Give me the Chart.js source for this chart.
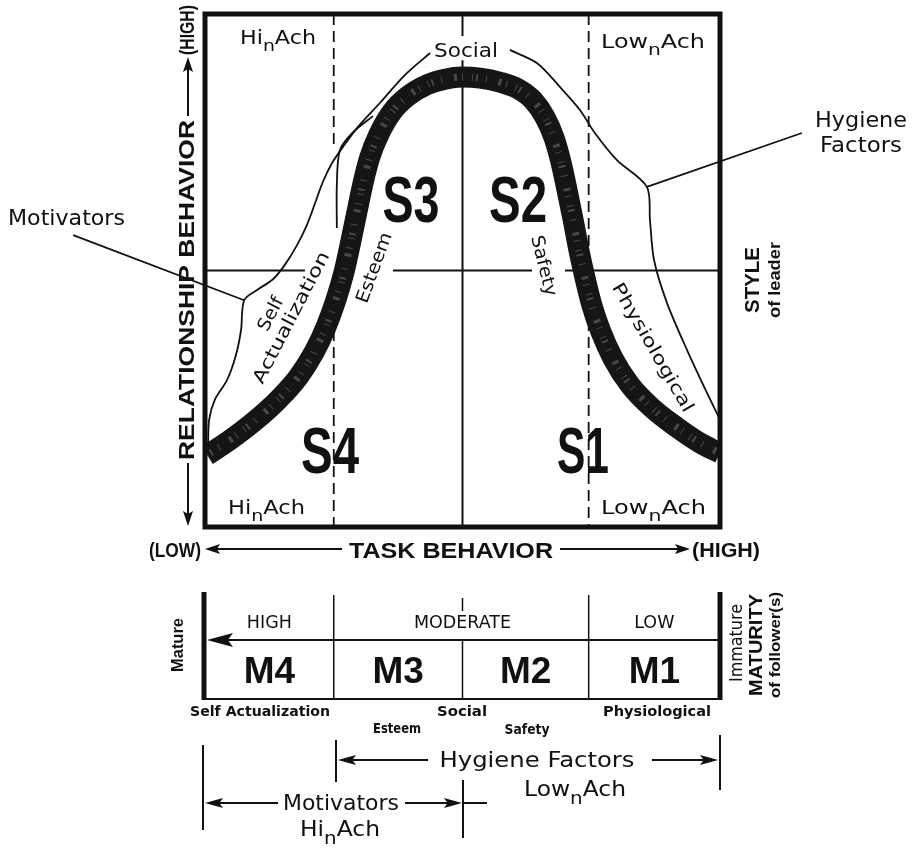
<!DOCTYPE html>
<html><head><meta charset="utf-8">
<script src="https://cdn.jsdelivr.net/npm/chart.js@4.4.1/dist/chart.umd.min.js"></script>
<style>html,body{margin:0;padding:0;background:#fff}canvas{display:block}</style>
</head><body>
<canvas id="c" width="912" height="852"></canvas>
<script>
// Leadership style curve: task behavior (x, 0-100) vs relationship behavior (y, 0-100)
const styleCurveX = [0.4, 4.9, 9.7, 14.2, 18.1, 21.2, 23.5, 25.4, 27.0, 28.3, 29.5, 30.7, 32.0, 33.8, 36.3, 39.4, 43.1, 46.6, 49.9, 53.4, 57.3, 60.8, 63.7, 66.0, 67.8, 69.1, 70.3, 71.5, 72.6, 73.8, 75.1, 76.9, 79.2, 82.5, 86.8, 91.8, 96.1, 100];
const styleCurveY = [14.0, 17.0, 20.7, 24.8, 29.2, 34.1, 39.0, 44.2, 49.7, 55.6, 61.4, 67.1, 72.1, 76.6, 80.9, 84.0, 86.2, 87.3, 87.7, 87.5, 86.7, 85.4, 83.2, 79.9, 75.8, 71.2, 65.7, 59.8, 54.0, 48.5, 43.3, 38.0, 32.9, 27.7, 23.2, 19.3, 16.4, 14.4];
// Needs curve (Motivators side, left of "Social")
const needsLeftX = [0.6, 0.8, 1.9, 4.3, 6.0, 7.0, 7.6, 10.1, 13.2, 15.5, 17.9, 19.8, 21.4, 22.9, 24.7, 26.8, 29.7, 34.0, 38.8, 43.7];
const needsLeftY = [15.6, 20.9, 24.8, 28.7, 33.5, 38.4, 44.2, 46.2, 48.3, 51.1, 55.0, 58.9, 63.2, 67.3, 71.0, 74.1, 78.0, 82.7, 88.1, 92.4];
// Needs curve (Hygiene side, right of "Social")
const needsRightX = [59.2, 64.5, 68.9, 72.8, 75.7, 80.0, 85.8, 86.4, 87.2, 89.7, 93.6, 97.5, 100];
const needsRightY = [93.0, 90.4, 85.8, 81.3, 76.8, 71.5, 66.3, 59.8, 52.0, 43.7, 34.5, 26.1, 20.9];
// Small branch beside the S3 segment
const branchX = [32.6, 28.8, 26.2, 25.6, 25.6];
const branchY = [80.1, 77.0, 73.5, 66.7, 58.3];
// Leader lines
const motivatorLeaderX = [-25.6, 7.6];
const motivatorLeaderY = [56.9, 44.2];
const hygieneLeaderX = [85.8, 115.9];
const hygieneLeaderY = [66.3, 76.8];
// Category texts
const quadrantBounds = [25, 50, 74.5];
const styleLabels = ['S4', 'S3', 'S2', 'S1'];
const maturityLabels = ['M4', 'M3', 'M2', 'M1'];
const maturityLevels = ['HIGH', 'MODERATE', 'LOW'];
const needsLevels = ['Self Actualization', 'Esteem', 'Social', 'Safety', 'Physiological'];

const REG = '"DejaVu Sans", "Liberation Sans", sans-serif';
const BOLD = '"Liberation Sans", Arial, sans-serif';
const INK = '#111';

function T(ctx, str, x, y, o) {
  o = o || {};
  const size = o.size || 18;
  ctx.save();
  ctx.translate(x, y);
  if (o.angle) ctx.rotate(o.angle * Math.PI / 180);
  ctx.font = (o.weight || 'normal') + ' ' + size + 'px ' + (o.family || REG);
  ctx.fillStyle = INK;
  ctx.textAlign = o.align || 'center';
  ctx.textBaseline = o.baseline || 'alphabetic';
  if (o.width) { const w = ctx.measureText(str).width; ctx.scale(o.width / w, 1); }
  ctx.fillText(str, o.dx || 0, o.dy || 0);
  ctx.restore();
}
function TS(ctx, a, sub, b, x, y, o) {
  const size = o.size || 19, ss = size * 0.85;
  ctx.save();
  ctx.translate(x, y);
  ctx.fillStyle = INK; ctx.textBaseline = 'alphabetic'; ctx.textAlign = 'left';
  const f1 = size + 'px ' + REG, f2 = ss + 'px ' + REG;
  ctx.font = f1; const wa = ctx.measureText(a).width, wb = ctx.measureText(b).width;
  ctx.font = f2; const ws = ctx.measureText(sub).width;
  const tot = wa + ws + wb;
  if (o.width) ctx.scale(o.width / tot, 1);
  const x0 = o.align === 'center' ? -tot / 2 : 0;
  ctx.font = f1; ctx.fillText(a, x0, 0);
  ctx.font = f2; ctx.fillText(sub, x0 + wa, size * 0.38);
  ctx.font = f1; ctx.fillText(b, x0 + wa + ws, 0);
  ctx.restore();
}
function L(ctx, x1, y1, x2, y2, lw, dash) {
  ctx.save();
  ctx.strokeStyle = INK; ctx.lineWidth = lw || 1.8; ctx.setLineDash(dash || []);
  ctx.beginPath(); ctx.moveTo(x1, y1); ctx.lineTo(x2, y2); ctx.stroke();
  ctx.restore();
}
function A(ctx, x1, y1, x2, y2, len, half, lw) {
  len = len || 16; half = half || 5;
  const a = Math.atan2(y2 - y1, x2 - x1), c = Math.cos(a), s = Math.sin(a);
  L(ctx, x1, y1, x2 - c * len * 0.7, y2 - s * len * 0.7, lw || 2);
  ctx.save(); ctx.fillStyle = INK;
  ctx.beginPath(); ctx.moveTo(x2, y2);
  ctx.lineTo(x2 - c * len - s * half, y2 - s * len + c * half);
  ctx.lineTo(x2 - c * len * 0.8, y2 - s * len * 0.8);
  ctx.lineTo(x2 - c * len + s * half, y2 - s * len - c * half);
  ctx.closePath(); ctx.fill(); ctx.restore();
}

const diagram = {
  id: 'diagram',
  beforeDatasetsDraw(chart) {
    const ctx = chart.ctx, xs = chart.scales.x, ys = chart.scales.y;
    const X = v => xs.getPixelForValue(v), Y = v => ys.getPixelForValue(v);
    [[0, 19.4], [36.5, 63.5], [69.9, 100]].forEach(s => L(ctx, X(s[0]), Y(50), X(s[1]), Y(50), 1.8));
    L(ctx, X(quadrantBounds[1]), Y(100), X(quadrantBounds[1]), Y(95.7), 2);
    L(ctx, X(quadrantBounds[1]), Y(91.0), X(quadrantBounds[1]), Y(0), 2);
    L(ctx, X(quadrantBounds[0]), Y(100), X(quadrantBounds[0]), Y(73.9), 1.8, [11, 6]);
    L(ctx, X(quadrantBounds[0]), Y(38.4), X(quadrantBounds[0]), Y(0), 1.8, [11, 6]);
    L(ctx, X(quadrantBounds[2]), Y(100), X(quadrantBounds[2]), Y(0), 1.8, [11, 6]);
  },
  afterDatasetsDraw(chart) {
    const ctx = chart.ctx, xs = chart.scales.x, ys = chart.scales.y;
    const X = v => xs.getPixelForValue(v), Y = v => ys.getPixelForValue(v);
    ctx.save(); ctx.strokeStyle = INK; ctx.lineWidth = 5;
    ctx.strokeRect(X(0), Y(100), X(100) - X(0), Y(0) - Y(100)); ctx.restore();

    TS(ctx, 'Hi', 'n', 'Ach', 240, 44, { size: 19, width: 76 });
    TS(ctx, 'Low', 'n', 'Ach', 601, 48, { size: 19, width: 104 });
    TS(ctx, 'Hi', 'n', 'Ach', 228, 514, { size: 19, width: 77 });
    TS(ctx, 'Low', 'n', 'Ach', 601, 514, { size: 19, width: 105 });
    T(ctx, needsLevels[2], 466, 57, { size: 19, width: 64 });

    const sPos = [[330, 473, 58], [411, 222, 57], [518, 222, 58], [583, 473, 52]];
    styleLabels.forEach((s, i) => T(ctx, s, sPos[i][0], sPos[i][1], { size: 64, weight: 'bold', family: BOLD, width: sPos[i][2] }));

    T(ctx, needsLevels[1], 375, 268, { size: 18, angle: -70, width: 74, baseline: 'middle' });
    T(ctx, 'Actualization', 292, 318, { size: 18, angle: -62.6, width: 146, baseline: 'middle' });
    T(ctx, 'Self', 292, 318, { size: 18, angle: -62.6, width: 36, baseline: 'middle', dx: -6, dy: -20 });
    T(ctx, needsLevels[3], 543, 266, { size: 18, angle: 76, width: 62, baseline: 'middle' });
    T(ctx, needsLevels[4], 652, 348, { size: 18, angle: 60, width: 146, baseline: 'middle' });

    T(ctx, 'Motivators', 8, 225, { size: 21, align: 'left', width: 117 });
    T(ctx, 'Hygiene', 861, 127, { size: 21, width: 92 });
    T(ctx, 'Factors', 861, 152, { size: 21, width: 82 });

    T(ctx, 'STYLE', 753, 280, { size: 21, weight: 'bold', family: BOLD, angle: -90, width: 66, baseline: 'middle' });
    T(ctx, 'of leader', 776, 280, { size: 16, weight: 'bold', family: BOLD, angle: -90, width: 76, baseline: 'middle' });

    T(ctx, '(HIGH)', 188, 30, { size: 20, weight: 'bold', family: BOLD, angle: -90, width: 50, baseline: 'middle' });
    A(ctx, 188, 116, 188, 57, 15, 5, 2);
    T(ctx, 'RELATIONSHIP BEHAVIOR', 188, 290, { size: 22, weight: 'bold', family: BOLD, angle: -90, width: 340, baseline: 'middle' });
    A(ctx, 188, 463, 188, 526, 15, 5, 2);

    T(ctx, '(LOW)', 175, 557, { size: 20, weight: 'bold', family: BOLD, width: 52 });
    A(ctx, 342, 549, 205, 549, 15, 5, 2);
    T(ctx, 'TASK BEHAVIOR', 451, 558, { size: 22, weight: 'bold', family: BOLD, width: 204 });
    A(ctx, 560, 549, 690, 549, 15, 5, 2);
    T(ctx, '(HIGH)', 726, 557, { size: 20, weight: 'bold', family: BOLD, width: 68 });

    // ---- Maturity panel ----
    const pTop = 592, pMid = 640, pBot = 699;
    L(ctx, X(0) - 1, pTop, X(0) - 1, pBot + 1, 5);
    L(ctx, X(100), pTop, X(100), pBot + 1, 5);
    L(ctx, X(0) - 2, pBot, X(100) + 2, pBot, 2.2);
    A(ctx, X(100), pMid, X(0) + 2, pMid, 26, 7, 2.2);
    L(ctx, X(quadrantBounds[0]), pTop + 3, X(quadrantBounds[0]), pBot, 1.5);
    L(ctx, X(quadrantBounds[2]), pTop + 3, X(quadrantBounds[2]), pBot, 1.5);
    L(ctx, X(quadrantBounds[1]), 598, X(quadrantBounds[1]), 611, 1.5);
    L(ctx, X(quadrantBounds[1]), pMid, X(quadrantBounds[1]), pBot, 1.5);
    const lvlX = [(X(0) + X(quadrantBounds[0])) / 2, X(quadrantBounds[1]), (X(quadrantBounds[2]) + X(100)) / 2];
    maturityLevels.forEach((s, i) => T(ctx, s, lvlX[i], 628, { size: 17.5 }));
    const mX = [0, 1, 2, 3].map(i => (X([0, 25, 50, 74.5][i]) + X([25, 50, 74.5, 100][i])) / 2);
    maturityLabels.forEach((s, i) => T(ctx, s, mX[i], 683, { size: 37, weight: 'bold', family: BOLD }));
    T(ctx, 'Mature', 178, 645, { size: 17, weight: 'bold', family: BOLD, angle: -90, width: 54, baseline: 'middle' });
    T(ctx, 'Immature', 737, 643, { size: 18, angle: -90, width: 78, baseline: 'middle' });
    T(ctx, 'MATURITY', 757, 645, { size: 18, weight: 'bold', family: BOLD, angle: -90, width: 102, baseline: 'middle' });
    T(ctx, 'of follower(s)', 776, 645, { size: 15, weight: 'bold', family: BOLD, angle: -90, width: 106, baseline: 'middle' });

    T(ctx, needsLevels[0], 260, 716, { size: 13.5, weight: 'bold', width: 140 });
    T(ctx, needsLevels[2], 462, 716, { size: 13.5, weight: 'bold', width: 50 });
    T(ctx, needsLevels[4], 657, 716, { size: 13.5, weight: 'bold', width: 108 });
    T(ctx, needsLevels[1], 397, 733, { size: 13.5, weight: 'bold', width: 48 });
    T(ctx, needsLevels[3], 527, 734, { size: 13.5, weight: 'bold', width: 45 });

    L(ctx, 336, 740, 336, 782, 2);
    A(ctx, 428, 760, 338, 760, 18, 5, 2);
    T(ctx, 'Hygiene Factors', 537, 767, { size: 21, width: 195 });
    A(ctx, 652, 760, 718, 760, 18, 5, 2);
    L(ctx, 720, 735, 720, 790, 2);
    TS(ctx, 'Low', 'n', 'Ach', 524, 796, { size: 21, width: 102 });

    L(ctx, 203, 745, 203, 830, 2);
    A(ctx, 278, 803, 205, 803, 18, 5, 2);
    T(ctx, 'Motivators', 341, 810, { size: 21, width: 116 });
    A(ctx, 405, 803, 462, 803, 18, 5, 2);
    L(ctx, 463, 780, 463, 838, 2);
    L(ctx, 462, 803, 487, 803, 2);
    TS(ctx, 'Hi', 'n', 'Ach', 300, 836, { size: 21, width: 80 });
  }
};

const pts = (xs, ys) => xs.map((x, i) => ({ x, y: ys[i] }));
const base = { showLine: true, pointRadius: 0, pointHoverRadius: 0, borderColor: INK, borderWidth: 1.8, fill: false };

new Chart(document.getElementById('c'), {
  type: 'scatter',
  data: {
    datasets: [
      Object.assign({}, base, { label: 'Needs (motivators)', data: pts(needsLeftX, needsLeftY), tension: 0.3, order: 0 }),
      Object.assign({}, base, { label: 'Needs (hygiene)', data: pts(needsRightX, needsRightY), tension: 0.3, order: 0 }),
      Object.assign({}, base, { label: 'Branch', data: pts(branchX, branchY), tension: 0.3, order: 0 }),
      Object.assign({}, base, { label: 'Motivators leader', data: pts(motivatorLeaderX, motivatorLeaderY), clip: false, order: 0 }),
      Object.assign({}, base, { label: 'Hygiene leader', data: pts(hygieneLeaderX, hygieneLeaderY), clip: false, order: 0 }),
      Object.assign({}, base, { label: 'Style texture', data: pts(styleCurveX, styleCurveY), cubicInterpolationMode: 'monotone', borderWidth: 7, borderColor: 'rgba(150,150,150,0.4)', borderDash: [1, 3, 2, 8, 1, 12, 3, 5, 1, 9], clip: 0, order: 1 }),
      Object.assign({}, base, { label: 'Leader style', data: pts(styleCurveX, styleCurveY), cubicInterpolationMode: 'monotone', borderWidth: 21, borderColor: '#151515', clip: 0, order: 2 })
    ]
  },
  options: {
    responsive: false,
    animation: false,
    layout: { padding: { left: 205, right: 192, top: 14, bottom: 325 } },
    scales: {
      x: { type: 'linear', min: 0, max: 100, display: false },
      y: { type: 'linear', min: 0, max: 100, display: false }
    },
    plugins: { legend: { display: false }, tooltip: { enabled: false } },
    events: []
  },
  plugins: [diagram]
});
</script>
</body></html>
